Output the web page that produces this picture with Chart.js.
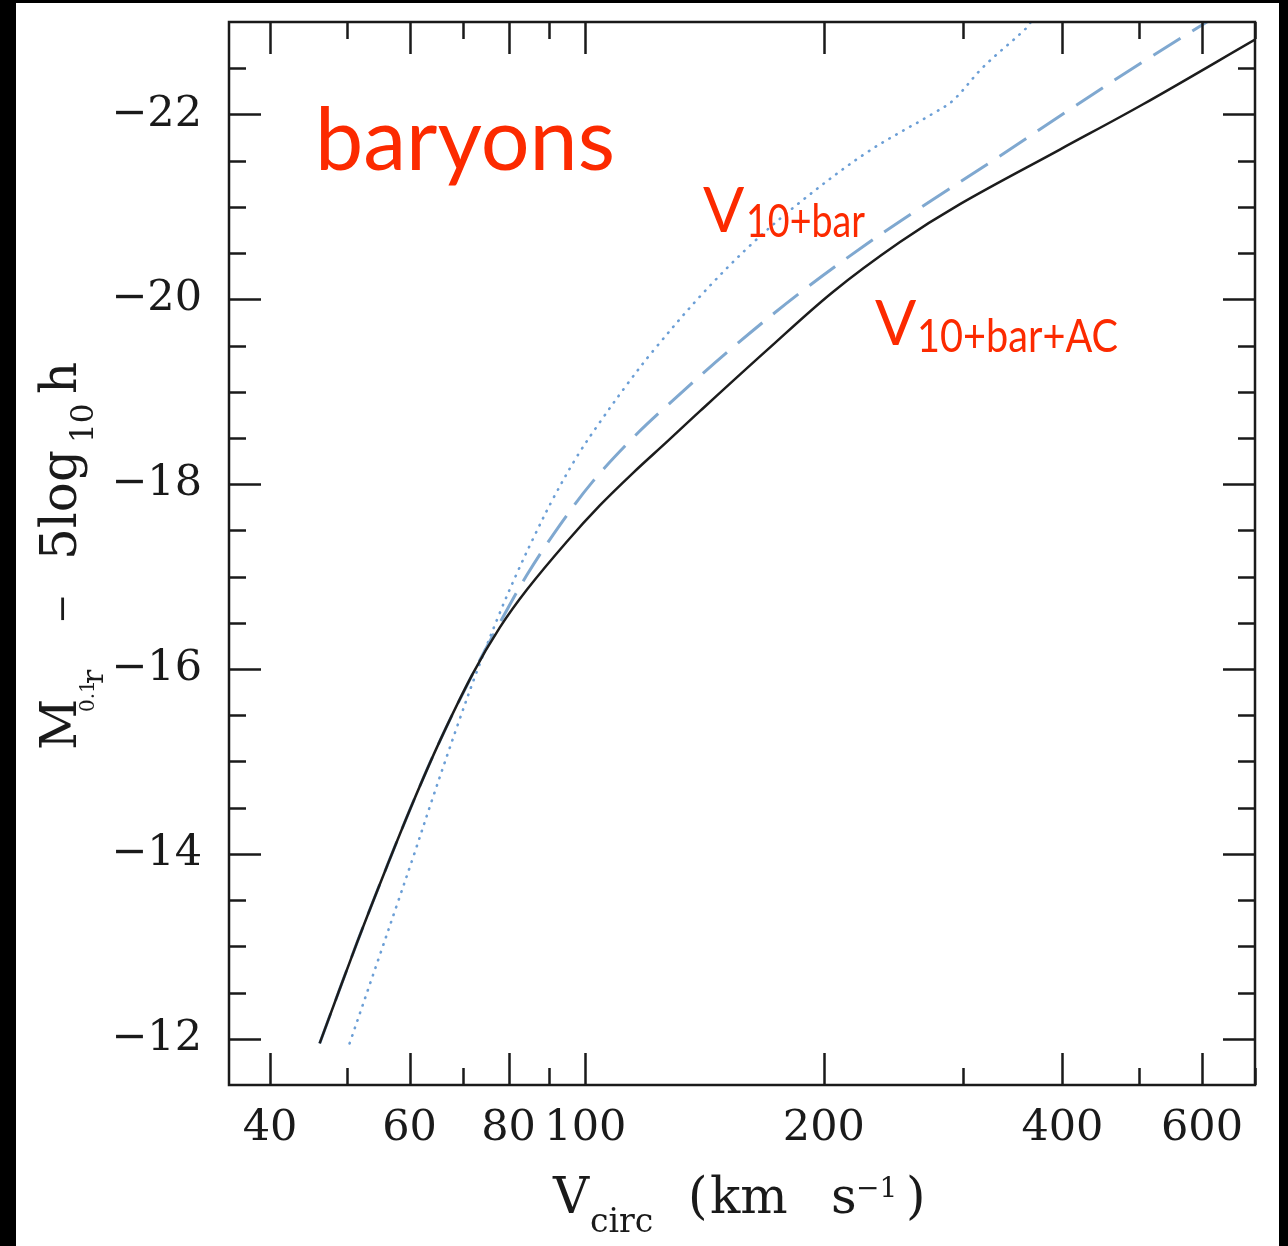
<!DOCTYPE html>
<html>
<head>
<meta charset="utf-8">
<title>baryons</title>
<script src="https://cdn.jsdelivr.net/npm/chart.js@4.4.1/dist/chart.umd.min.js"></script>
<style>
  html, body { margin: 0; padding: 0; background: #000; overflow: hidden; }
  canvas { display: block; }
</style>
</head>
<body>
<canvas id="tfChart" width="1288" height="1246"></canvas>
<script>
// ===========================
// Data
// ===========================

// V10+bar+AC (solid black)
const vBarAC = [46.2, 51.5, 56.2, 60.4, 65.5, 72.1, 78.0, 84.4, 94.8, 104.3, 114.8, 126.8, 139.5, 169.5, 205.3, 249.5, 297, 397, 505.6, 700];
const magBarAC = [-11.95, -13.04, -13.87, -14.53, -15.22, -15.95, -16.45, -16.86, -17.38, -17.77, -18.12, -18.46, -18.79, -19.45, -20.08, -20.62, -21.03, -21.62, -22.11, -22.81];

// dashed blue curve
const vDashed = [46.2, 51.5, 56.2, 60.4, 65.5, 72.1, 78.0, 84.4, 92.9, 102.2, 114.8, 126.8, 153.5, 186.6, 226.7, 274.6, 333.6, 403, 505.6, 630];
const magDashed = [-11.95, -13.04, -13.87, -14.53, -15.22, -15.95, -16.50, -17.02, -17.56, -18.03, -18.50, -18.85, -19.48, -20.07, -20.60, -21.08, -21.55, -22.02, -22.57, -23.08];

// V10+bar (dotted blue)
const vBar = [50.4, 55.0, 58.0, 60.6, 64.2, 68.9, 73.0, 78.0, 82.0, 85.9, 91.0, 97.6, 104.3, 112.9, 121.7, 139.5, 161.3, 186.6, 226.7, 274.6, 291, 317.5, 360.8, 366];
const magBar = [-11.95, -12.90, -13.48, -13.96, -14.61, -15.38, -15.98, -16.61, -17.04, -17.41, -17.84, -18.30, -18.67, -19.08, -19.44, -20.03, -20.58, -21.05, -21.59, -22.01, -22.15, -22.51, -22.94, -23.02];

// axes
const xLabelTicks = [40, 60, 80, 100, 200, 400, 600];
const xMinorTicks = [50, 70, 90, 300, 500, 700];
const yLabelTicks = [-22, -20, -18, -16, -14, -12];

const INK = '#1a1a1a';
const RED = '#fc2a00';

function toPoints(xs, ys) {
    return xs.map((x, i) => ({ x: x, y: ys[i] }));
}

// ===========================
// Plugins
// ===========================

const paperBackground = {
    id: 'paperBackground',
    beforeDraw(chart) {
        const c = chart.ctx;
        c.save();
        c.fillStyle = '#000';
        c.fillRect(0, 0, chart.width, chart.height);
        c.fillStyle = '#fff';
        c.fillRect(16, 3, 1263, chart.height - 3);
        c.restore();
    }
};

const frameTicks = {
    id: 'frameTicks',
    afterDatasetsDraw(chart) {
        const c = chart.ctx;
        const area = chart.chartArea;
        const xs = chart.scales.x;
        const ys = chart.scales.y;
        const big = 32, small = 17;

        c.save();
        c.strokeStyle = INK;
        c.lineWidth = 2.5;
        c.strokeRect(area.left, area.top, area.right - area.left, area.bottom - area.top);

        c.beginPath();
        const xTick = (v, len) => {
            const px = Math.round(xs.getPixelForValue(v)) + 0.5;
            c.moveTo(px, area.bottom); c.lineTo(px, area.bottom - len);
            c.moveTo(px, area.top); c.lineTo(px, area.top + len);
        };
        xLabelTicks.forEach(v => xTick(v, big));
        xMinorTicks.forEach(v => xTick(v, small));

        const yTick = (v, len) => {
            const py = Math.round(ys.getPixelForValue(v)) + 0.5;
            c.moveTo(area.left, py); c.lineTo(area.left + len, py);
            c.moveTo(area.right, py); c.lineTo(area.right - len, py);
        };
        yLabelTicks.forEach(v => yTick(v, big));
        for (let v = -22.5; v < -11.5; v += 0.5) {
            if (!yLabelTicks.includes(v)) yTick(v, small);
        }
        c.stroke();
        c.restore();
    }
};

function drawFitted(c, text, x, y, size, width) {
    c.font = `${size}px Lato`;
    const w = c.measureText(text).width;
    c.save();
    c.translate(x, y);
    if (width) c.scale(width / w, 1);
    c.fillText(text, 0, 0);
    c.restore();
}

const annotations = {
    id: 'annotations',
    afterDraw(chart) {
        const c = chart.ctx;
        c.save();

        // red labels
        c.fillStyle = RED;
        c.textAlign = 'left';
        c.textBaseline = 'alphabetic';
        drawFitted(c, 'baryons', 315, 170, 88, 300);
        drawFitted(c, 'V', 703, 232, 61);
        drawFitted(c, '10+bar', 746, 237, 46, 119);
        drawFitted(c, 'V', 875, 345, 61);
        drawFitted(c, '10+bar+AC', 917, 352, 46, 201);

        // x axis title
        c.fillStyle = INK;
        const serif = (s) => `${s}px "DejaVu Serif"`;
        c.font = serif(50); c.fillText('V', 553, 1213);
        c.font = serif(33); c.fillText('circ', 590, 1232);
        c.font = serif(50); c.fillText('(', 688, 1213);
        c.fillText('km', 710, 1213);
        c.fillText('s', 831, 1213);
        c.font = serif(28); c.fillText('\u22121', 856, 1197);
        c.font = serif(50); c.fillText(')', 906, 1213);

        // y axis title (rotated)
        c.translate(76, 0);
        c.rotate(-Math.PI / 2);
        c.font = serif(50); c.fillText('M', -750, 0);
        c.font = serif(20); c.fillText('0.1', -712, 18);
        c.font = serif(30); c.fillText('r', -684, 27);
        c.font = serif(36); c.fillText('\u2212', -624, -2);
        c.font = serif(50); c.fillText('5log', -560, 0);
        c.font = serif(31); c.fillText('10', -443, 17);
        c.font = serif(50); c.fillText('h', -394, 0);

        c.restore();
    }
};

// ===========================
// Chart
// ===========================

const ctx = document.getElementById('tfChart');

new Chart(ctx, {
    type: 'line',
    data: {
        datasets: [
            {
                label: 'V10+bar+AC',
                data: toPoints(vBarAC, magBarAC),
                borderColor: '#1c1c1c',
                borderWidth: 2.5,
                pointRadius: 0,
                tension: 0.35
            },
            {
                label: 'dashed',
                data: toPoints(vDashed, magDashed),
                borderColor: '#7fa8d0',
                borderWidth: 3,
                borderDash: [32, 14],
                pointRadius: 0,
                tension: 0.35
            },
            {
                label: 'V10+bar',
                data: toPoints(vBar, magBar),
                borderColor: '#6c9fd6',
                borderWidth: 2.6,
                borderDash: [0.5, 7.5],
                borderCapStyle: 'round',
                pointRadius: 0,
                tension: 0.35
            }
        ]
    },
    options: {
        responsive: false,
        animation: false,
        events: [],
        layout: {
            padding: { top: 22, right: 33, left: 0, bottom: 0 }
        },
        plugins: {
            legend: { display: false },
            tooltip: { enabled: false }
        },
        scales: {
            x: {
                type: 'logarithmic',
                min: 35.5,
                max: 700,
                grid: { display: false, drawTicks: false },
                border: { display: false },
                afterBuildTicks: (scale) => {
                    scale.ticks = xLabelTicks.map(v => ({ value: v }));
                },
                afterFit: (scale) => {
                    scale.height = 161;
                    scale.paddingLeft = 0;
                    scale.paddingRight = 0;
                },
                ticks: {
                    autoSkip: false,
                    maxRotation: 0,
                    padding: 18,
                    color: INK,
                    font: { family: 'DejaVu Serif', size: 43 },
                    callback: (v) => String(v)
                }
            },
            y: {
                type: 'linear',
                min: -23,
                max: -11.5,
                reverse: true,
                grid: { display: false, drawTicks: false },
                border: { display: false },
                afterBuildTicks: (scale) => {
                    scale.ticks = yLabelTicks.map(v => ({ value: v }));
                },
                afterFit: (scale) => {
                    scale.width = 229;
                    scale.paddingTop = 0;
                    scale.paddingBottom = 0;
                },
                ticks: {
                    padding: 27,
                    color: INK,
                    font: { family: 'DejaVu Serif', size: 43 },
                    callback: (v) => '\u2212' + Math.abs(v)
                }
            }
        }
    },
    plugins: [paperBackground, frameTicks, annotations]
});
</script>
</body>
</html>
